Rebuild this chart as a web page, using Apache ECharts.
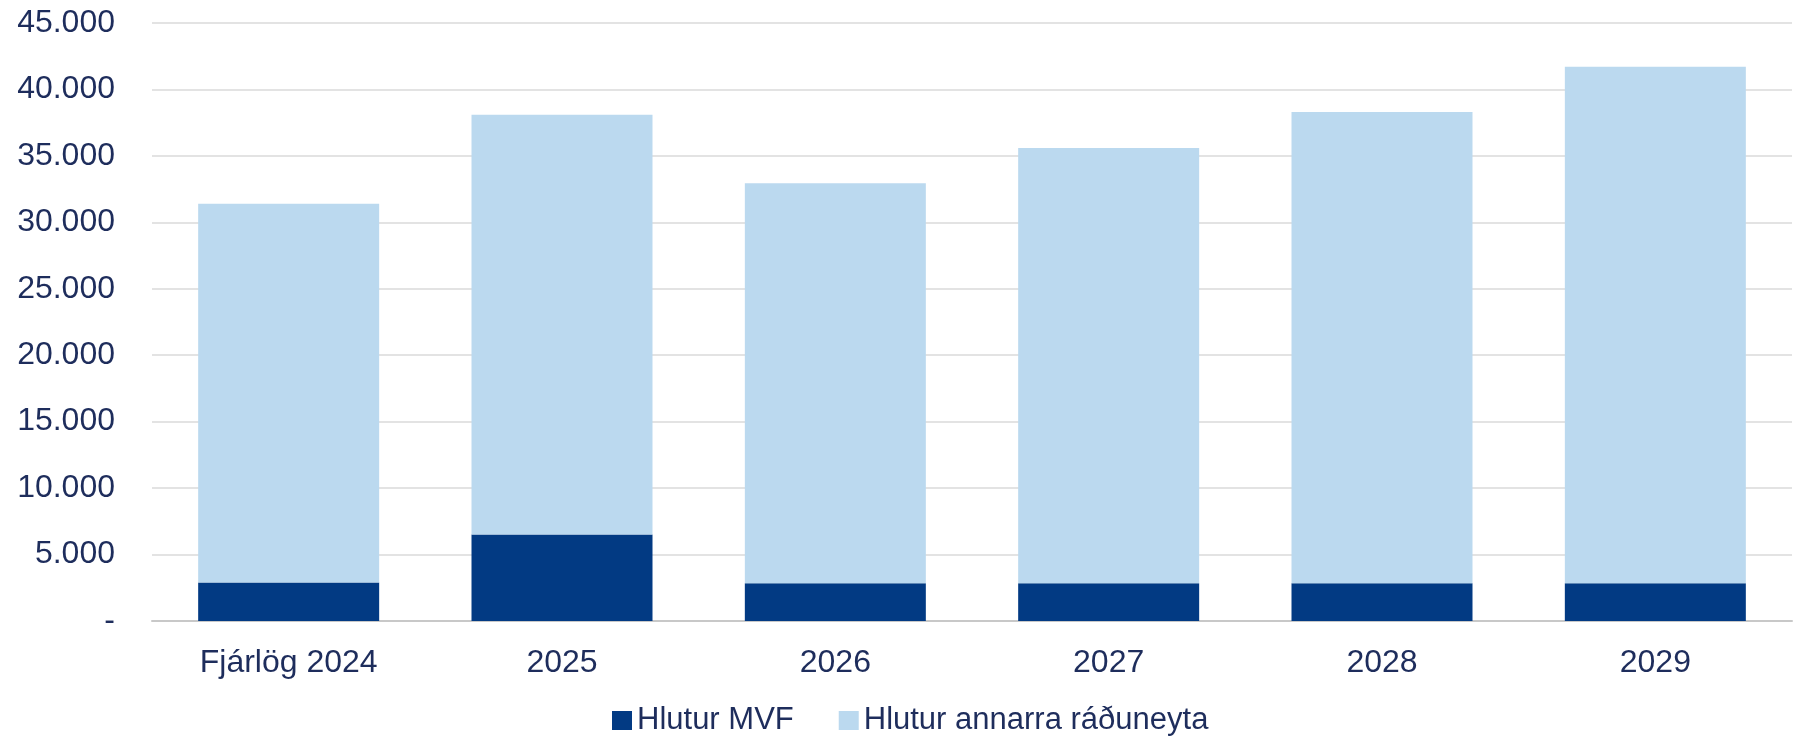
<!DOCTYPE html>
<html>
<head>
<meta charset="utf-8">
<title>Hlutur MVF og annarra ráðuneyta</title>
<script src="https://cdn.jsdelivr.net/npm/echarts@6/dist/echarts.min.js"></script>
<style>
  html, body { margin: 0; padding: 0; background: #ffffff; }
  #chart { width: 1794px; height: 736px; }
</style>
</head>
<body>
<div id="chart"></div>
<script>
// Values (m.kr.)
var categories = ["Fjárlög 2024", "2025", "2026", "2027", "2028", "2029"];
var seriesNames = ["Hlutur MVF", "Hlutur annarra ráðuneyta"];
var mvfShare = [2900, 6500, 2850, 2850, 2850, 2850];
var otherShare = [28500, 31600, 30100, 32750, 35450, 38850];
var yTicks = { min: 0, max: 45000, interval: 5000 };

(function () {
  var textColor = "#1e2d5c";
  var el = document.getElementById("chart");
  var chart = echarts.init(el, null, { renderer: "canvas" });

  // 45000 -> "45.000", 0 -> "-"
  function formatTick(v) {
    if (v === 0) return "-";
    return String(v).replace(/\B(?=(\d{3})+(?!\d))/g, ".");
  }

  chart.setOption({
    animation: false,
    textStyle: { fontFamily: "Liberation Sans, Arial, sans-serif" },
    grid: { left: 152, right: 2, top: 23, bottom: 115, containLabel: false },
    legend: {
      left: 607,
      top: 700,
      itemWidth: 20,
      itemHeight: 19,
      itemGap: 45,
      icon: "rect",
      textStyle: { color: textColor, fontSize: 31 },
      data: seriesNames
    },
    xAxis: {
      type: "category",
      data: categories,
      axisTick: { show: false },
      axisLine: { lineStyle: { color: "#c8c8c8", width: 2 } },
      axisLabel: { color: textColor, fontSize: 32, margin: 26 }
    },
    yAxis: {
      type: "value",
      min: yTicks.min,
      max: yTicks.max,
      interval: yTicks.interval,
      axisLine: { show: false },
      axisTick: { show: false },
      splitLine: { lineStyle: { color: "#e3e3e3", width: 2 } },
      axisLabel: {
        color: textColor,
        fontSize: 32,
        margin: 37,
        padding: [4, 0, 0, 0],
        formatter: formatTick
      }
    },
    series: [
      {
        name: seriesNames[0],
        type: "bar",
        stack: "total",
        barWidth: 181,
        itemStyle: { color: "#023a83" },
        data: mvfShare
      },
      {
        name: seriesNames[1],
        type: "bar",
        stack: "total",
        barWidth: 181,
        itemStyle: { color: "#bbd9ef" },
        data: otherShare
      }
    ]
  });
})();
</script>
</body>
</html>
